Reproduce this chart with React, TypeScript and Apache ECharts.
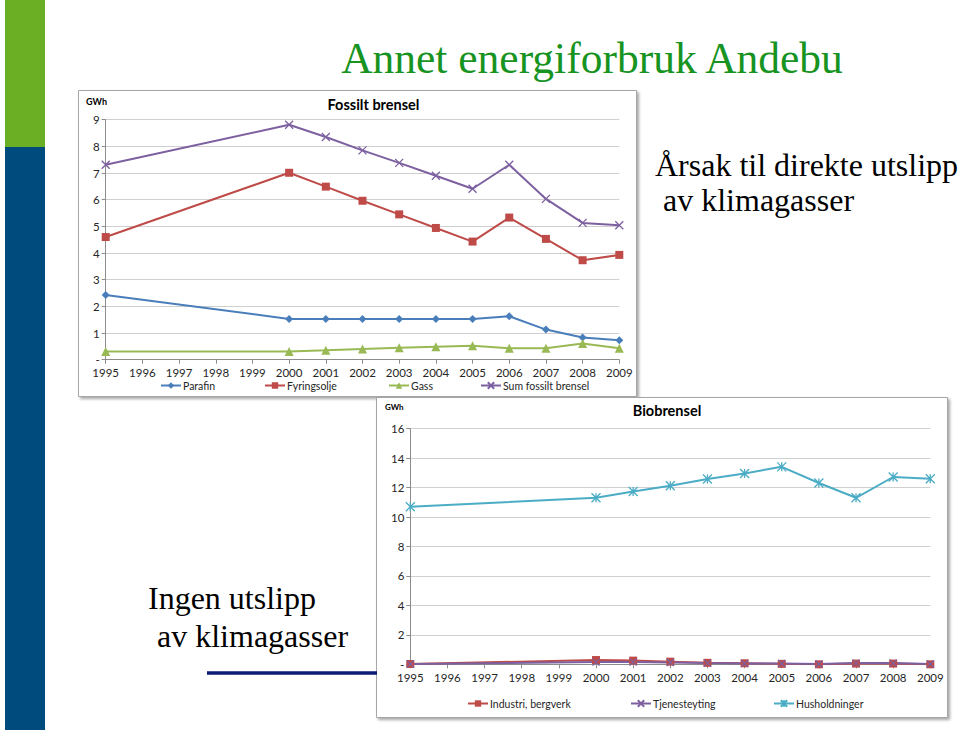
import React, { useEffect, useRef } from "react";
import * as echarts from "echarts";

const years = ["1995", "1996", "1997", "1998", "1999", "2000", "2001", "2002", "2003", "2004", "2005", "2006", "2007", "2008", "2009"];

// Fossilt brensel (GWh)
const parafin = [2.43, null, null, null, null, 1.53, 1.53, 1.53, 1.53, 1.53, 1.53, 1.63, 1.13, 0.83, 0.73];
const fyringsolje = [4.6, null, null, null, null, 7.01, 6.49, 5.96, 5.45, 4.94, 4.43, 5.33, 4.53, 3.73, 3.93];
const gass = [0.31, null, null, null, null, 0.31, 0.35, 0.4, 0.45, 0.49, 0.52, 0.43, 0.43, 0.61, 0.43];
const sumFossilt = [7.31, null, null, null, null, 8.81, 8.35, 7.85, 7.38, 6.9, 6.41, 7.31, 6.03, 5.13, 5.04];

// Biobrensel (GWh)
const industri = [0.02, null, null, null, null, 0.29, 0.25, 0.18, 0.1, 0.07, 0.03, 0.0, 0.05, 0.05, 0.0];
const tjenesteyting = [0.02, null, null, null, null, 0.15, 0.15, 0.12, 0.08, 0.06, 0.05, 0.02, 0.08, 0.08, 0.02];
const husholdninger = [10.7, null, null, null, null, 11.31, 11.74, 12.12, 12.58, 12.96, 13.41, 12.31, 11.31, 12.72, 12.6];

const fossilNames = ["Parafin", "Fyringsolje", "Gass", "Sum fossilt brensel"];
const bioNames = ["Industri, bergverk", "Tjenesteyting", "Husholdninger"];

const X_SYMBOL = "path://M0,0L10,10M10,0L0,10";
const STAR_SYMBOL = "path://M0,0L10,10M10,0L0,10M5,0L5,10";

const FONT = "Lato, 'Open Sans', sans-serif";
const SERIF = "'Liberation Serif', 'Times New Roman', serif";

function lineSeries(name: string, data: (number | null)[], color: string, symbol: string, size: number, axis: number, stroke = false) {
  return {
    name,
    type: "line",
    xAxisIndex: axis,
    yAxisIndex: axis,
    data,
    connectNulls: true,
    symbol,
    symbolSize: size,
    lineStyle: { color, width: 2 },
    itemStyle: stroke ? { color, borderColor: color, borderWidth: 1.3 } : { color },
    z: 3,
  };
}

function axisPair(gridIndex: number, max: number, interval: number) {
  const axisColor = "#8c8c8c";
  return {
    x: {
      gridIndex,
      type: "category",
      data: years,
      boundaryGap: false,
      axisLine: { show: true, lineStyle: { color: axisColor, width: 1 } },
      axisTick: { show: true, length: 4, alignWithLabel: true, lineStyle: { color: axisColor } },
      axisLabel: { color: "#262626", fontSize: 11.5, fontFamily: FONT, margin: 7, interval: 0 },
      splitLine: { show: false },
    },
    y: {
      gridIndex,
      type: "value",
      min: 0,
      max,
      interval,
      axisLine: { show: true, lineStyle: { color: axisColor, width: 1 } },
      axisTick: { show: true, length: 4, lineStyle: { color: axisColor } },
      axisLabel: {
        color: "#262626",
        fontSize: 11.5,
        fontFamily: FONT,
        margin: 6,
        formatter: (v: number) => (v === 0 ? "-" : String(v)),
      },
      splitLine: { show: true, lineStyle: { color: "#cfcfcf", width: 1 } },
    },
  };
}

function legendAt(name: string, left: number, top: number, icon?: string) {
  const l: any = {
    data: [name],
    left,
    top,
    itemWidth: 20,
    itemHeight: 8,
    selectedMode: false,
    textStyle: { fontSize: 10.5, color: "#262626", fontFamily: FONT, padding: [0, 0, 0, -3] },
    padding: 0,
  };
  return l;
}

export default function App() {
  const ref = useRef<HTMLDivElement>(null);

  useEffect(() => {
    document.body.style.margin = "0";
    if (!ref.current) return;
    const chart = echarts.init(ref.current, undefined, { renderer: "svg" });
    const a1 = axisPair(0, 9, 1);
    const a2 = axisPair(1, 16, 2);
    chart.setOption({
      animation: false,
      backgroundColor: "#ffffff",
      grid: [
        { left: 105.7, top: 119.7, width: 513.6, height: 240, containLabel: false },
        { left: 410.3, top: 428.7, width: 520, height: 235.6, containLabel: false },
      ],
      xAxis: [a1.x, a2.x],
      yAxis: [a1.y, a2.y],
      legend: [
        legendAt(fossilNames[0], 160, 380),
        legendAt(fossilNames[1], 264, 380),
        legendAt(fossilNames[2], 388, 380),
        legendAt(fossilNames[3], 480, 380),
        legendAt(bioNames[0], 467, 698),
        legendAt(bioNames[1], 630, 698),
        legendAt(bioNames[2], 773, 698),
      ],
      series: [
        lineSeries(fossilNames[0], parafin, "#4a7ebb", "diamond", 8, 0),
        lineSeries(fossilNames[1], fyringsolje, "#be4b48", "rect", 8, 0),
        lineSeries(fossilNames[2], gass, "#98b954", "triangle", 9, 0),
        lineSeries(fossilNames[3], sumFossilt, "#7d60a0", X_SYMBOL, 8, 0, true),
        lineSeries(bioNames[0], industri, "#be4b48", "rect", 8, 1),
        lineSeries(bioNames[1], tjenesteyting, "#7d60a0", X_SYMBOL, 7, 1, true),
        lineSeries(bioNames[2], husholdninger, "#4bacc6", STAR_SYMBOL, 9, 1, true),
      ],
      graphic: [
        { type: "rect", z: -5, shape: { x: 5, y: 0, width: 40, height: 147 }, style: { fill: "#6aaf24" } },
        { type: "rect", z: -5, shape: { x: 5, y: 147, width: 40, height: 583 }, style: { fill: "#004b7d" } },
        {
          type: "rect",
          z: -4,
          shape: { x: 78.5, y: 90.5, width: 558, height: 306 },
          style: { fill: "#ffffff", stroke: "#a6a6a6", lineWidth: 1, shadowBlur: 3, shadowOffsetX: 2, shadowOffsetY: 2, shadowColor: "rgba(0,0,0,0.35)" },
        },
        {
          type: "rect",
          z: -4,
          shape: { x: 376.5, y: 397.5, width: 571, height: 320 },
          style: { fill: "#ffffff", stroke: "#a6a6a6", lineWidth: 1, shadowBlur: 3, shadowOffsetX: 2, shadowOffsetY: 2, shadowColor: "rgba(0,0,0,0.35)" },
        },
        { type: "line", z: -3, shape: { x1: 207, y1: 673, x2: 377, y2: 673 }, style: { stroke: "#0d1a78", lineWidth: 3.5 } },
        {
          type: "text", z: 10, x: 592, y: 58,
          style: { text: "Annet energiforbruk Andebu", font: `43.5px ${SERIF}`, fill: "#17931f", textAlign: "center", textVerticalAlign: "middle" },
        },
        {
          type: "text", z: 10, x: 655, y: 165,
          style: { text: "Årsak til direkte utslipp", font: `32px ${SERIF}`, fill: "#000000", textAlign: "left", textVerticalAlign: "middle" },
        },
        {
          type: "text", z: 10, x: 663, y: 200,
          style: { text: "av klimagasser", font: `32px ${SERIF}`, fill: "#000000", textAlign: "left", textVerticalAlign: "middle" },
        },
        {
          type: "text", z: 10, x: 148, y: 598,
          style: { text: "Ingen utslipp", font: `32px ${SERIF}`, fill: "#000000", textAlign: "left", textVerticalAlign: "middle" },
        },
        {
          type: "text", z: 10, x: 157, y: 636,
          style: { text: "av klimagasser", font: `32px ${SERIF}`, fill: "#000000", textAlign: "left", textVerticalAlign: "middle" },
        },
        {
          type: "text", z: 10, x: 86, y: 101,
          style: { text: "GWh", font: `bold 9px ${FONT}`, fill: "#000000", textAlign: "left", textVerticalAlign: "middle" },
        },
        {
          type: "text", z: 10, x: 373.5, y: 104.5,
          style: { text: "Fossilt brensel", font: `bold 14.5px ${FONT}`, fill: "#000000", textAlign: "center", textVerticalAlign: "middle" },
        },
        {
          type: "text", z: 10, x: 385, y: 407,
          style: { text: "GWh", font: `bold 8px ${FONT}`, fill: "#000000", textAlign: "left", textVerticalAlign: "middle" },
        },
        {
          type: "text", z: 10, x: 667, y: 410,
          style: { text: "Biobrensel", font: `bold 14.5px ${FONT}`, fill: "#000000", textAlign: "center", textVerticalAlign: "middle" },
        },
      ],
    });
    return () => chart.dispose();
  }, []);

  return (
    <div
      ref={ref}
      style={{ position: "absolute", left: 0, top: 0, width: 960, height: 732, background: "#ffffff" }}
    />
  );
}
